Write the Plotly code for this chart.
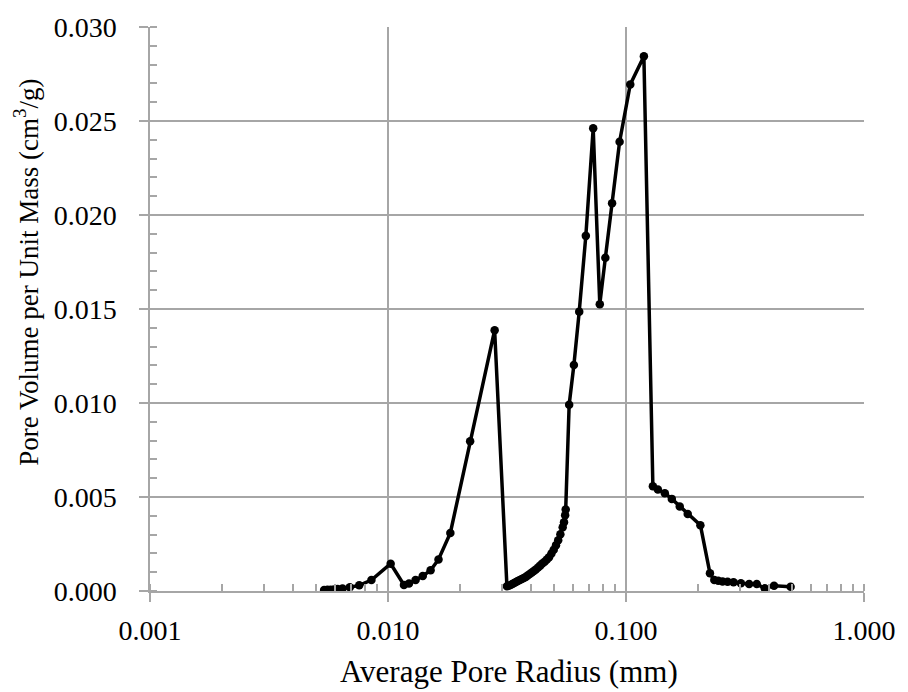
import plotly.graph_objects as go

radius_mm = [
    0.00539, 0.00557, 0.00575, 0.00594, 0.00614, 0.00644, 0.00691, 0.00757, 0.00852, 0.01026,
    0.01167, 0.01225, 0.01306, 0.01400, 0.01510, 0.01630, 0.01828, 0.02214, 0.02806,
    0.0316, 0.0321, 0.0327, 0.0333, 0.0339, 0.0345, 0.0351, 0.0358, 0.0365, 0.0372,
    0.0379, 0.0386, 0.0394, 0.0402, 0.0410, 0.0418, 0.0427, 0.0436, 0.0445, 0.0455,
    0.0465, 0.0475, 0.0486, 0.0497, 0.0508, 0.0519, 0.0530, 0.0542, 0.0549, 0.0555, 0.0558,
    0.0577, 0.0604, 0.0636, 0.0678, 0.0728, 0.0776, 0.0819, 0.0874, 0.0940, 0.1042, 0.1189,
    0.1297, 0.1361, 0.1456, 0.1558, 0.1682, 0.1817, 0.2054,
    0.2253, 0.2350, 0.2442, 0.2545, 0.2672, 0.2830, 0.3039, 0.3292, 0.3543, 0.3828, 0.4188, 0.4917,
]

pore_volume = [
    0.00005, 0.00006, 0.00007, 0.00008, 0.00010, 0.00013, 0.00020, 0.00030, 0.00058, 0.00145,
    0.00032, 0.00040, 0.00058, 0.00080, 0.00110, 0.00168, 0.00309, 0.00797, 0.01387,
    0.00025, 0.00028, 0.00032, 0.00037, 0.00042, 0.00048, 0.00053, 0.00058, 0.00064, 0.00069,
    0.00075, 0.00082, 0.00090, 0.00098, 0.00106, 0.00114, 0.00125, 0.00135, 0.00146, 0.00156,
    0.00167, 0.00180, 0.00199, 0.00220, 0.00244, 0.00270, 0.00302, 0.00339, 0.00366, 0.00403, 0.00433,
    0.00991, 0.01202, 0.01486, 0.01889, 0.02461, 0.01525, 0.01772, 0.02063, 0.02390, 0.02694, 0.02845,
    0.00557, 0.00540, 0.00520, 0.00490, 0.00450, 0.00410, 0.00350,
    0.00094, 0.00058, 0.00055, 0.00051, 0.00049, 0.00046, 0.00041, 0.00037, 0.00037, 0.00014, 0.00028, 0.00023,
]

x_tickvals = [0.001, 0.01, 0.1, 1.0]
x_ticktext = ["0.001", "0.010", "0.100", "1.000"]
y_tickvals = [0.0, 0.005, 0.010, 0.015, 0.020, 0.025, 0.030]
x_title = "Average Pore Radius (mm)"
y_title = "Pore Volume per Unit Mass (cm<sup>3</sup>/g)"

FONT = "'Liberation Serif', 'Times New Roman', Times, serif"
GRID = "#a6a6a6"
FS = 28

fig = go.Figure()
fig.add_trace(go.Scatter(
    x=radius_mm, y=pore_volume, mode="lines+markers",
    line=dict(color="black", width=3.5),
    marker=dict(color="black", size=8.5),
    showlegend=False,
))

fig.update_layout(
    width=908, height=692,
    margin=dict(l=150, r=41, t=25, b=101),
    paper_bgcolor="white", plot_bgcolor="white",
    font=dict(family=FONT, size=FS, color="black"),
)

fig.update_xaxes(
    type="log", range=[-3, 0],
    tickvals=x_tickvals, ticktext=x_ticktext,
    ticks="outside", ticklen=9, tickwidth=1.5, tickcolor=GRID,
    ticklabelstandoff=5,
    showgrid=True, gridcolor=GRID, gridwidth=1.5,
    showline=True, linecolor=GRID, linewidth=1.5,
    zeroline=False,
    minor=dict(dtick="D1", ticks="inside", ticklen=7, tickwidth=1.5, tickcolor=GRID, showgrid=False),
    tickfont=dict(family=FONT, size=FS),
)

fig.update_yaxes(
    range=[0, 0.030],
    tickvals=y_tickvals, tickformat=".3f",
    ticks="outside", ticklen=9, tickwidth=1.5, tickcolor=GRID,
    ticklabelstandoff=17,
    showgrid=True, gridcolor=GRID, gridwidth=1.5,
    showline=True, linecolor=GRID, linewidth=1.5,
    zeroline=False,
    minor=dict(dtick=0.001, ticks="inside", ticklen=7, tickwidth=1.5, tickcolor=GRID, showgrid=False),
    tickfont=dict(family=FONT, size=FS),
)

fig.add_annotation(
    text=x_title, xref="paper", yref="paper",
    x=(511 - 150) / 717, y=(591 - 672) / 566,
    xanchor="center", yanchor="middle", showarrow=False,
    font=dict(family=FONT, size=31, color="black"),
)
fig.add_annotation(
    text=y_title, xref="paper", yref="paper",
    x=(26 - 150) / 717, y=(591 - 271) / 566,
    xanchor="center", yanchor="middle", showarrow=False, textangle=-90,
    font=dict(family=FONT, size=27, color="black"),
)

fig.write_html("out.html")
